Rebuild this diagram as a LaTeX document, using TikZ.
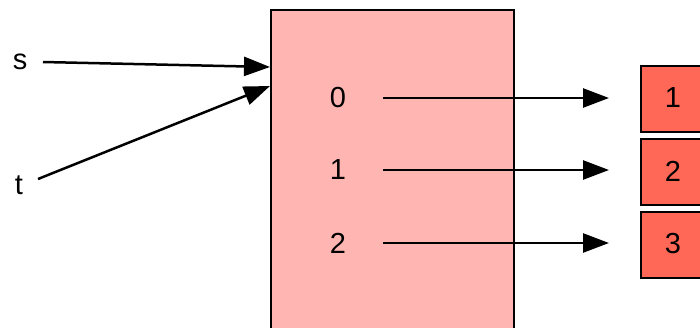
\documentclass[tikz,border=0pt]{standalone}
\usepackage{fontspec}
\setmainfont{Liberation Sans}
\usetikzlibrary{arrows.meta}
\begin{document}
\begin{tikzpicture}[x=1pt,y=-1pt,
  lbl/.style={inner sep=0pt, font=\fontsize{29}{34}\selectfont},
  conn/.style={line width=2.5pt, -{Triangle[length=26pt,width=19pt]}},
  bigbox/.style={draw=black, line width=2.4pt, fill=pinkfill},
  smallbox/.style={draw=black, line width=2.4pt, fill=redfill, minimum width=70pt, minimum height=66pt, inner sep=0pt, anchor=north west},
]
\definecolor{pinkfill}{HTML}{FFB6B3}
\definecolor{redfill}{HTML}{FF6757}
\useasboundingbox (0,0) rectangle (700,327);
\path[bigbox] (271,10) rectangle (514,340);
\coordinate (sin) at (270,67);
\coordinate (tin) at (270,86);
\node[lbl] (s) at (20,62) {s};
\node[lbl] (t) at (19,185) {t};
\node[lbl] (n0) at (338,98) {0};
\node[lbl] (n1) at (338,170) {1};
\node[lbl] (n2) at (338,243) {2};
\node[smallbox] (b1) at (640,65) {};
\node[smallbox] (b2) at (640,138) {};
\node[smallbox] (b3) at (640,211) {};
\node[lbl] (l1) at (673,98) {1};
\node[lbl] (l2) at (673,171) {2};
\node[lbl] (l3) at (673,244) {3};
\coordinate (a0s) at (383,98);
\coordinate (a1s) at (383,170);
\coordinate (a2s) at (383,243);
\coordinate (a0e) at (609,98);
\coordinate (a1e) at (609,170);
\coordinate (a2e) at (609,243);
\draw[conn] (43,62) -- (sin);
\draw[conn] (38,179) -- (tin);
\draw[conn] (a0s) -- (a0e);
\draw[conn] (a1s) -- (a1e);
\draw[conn] (a2s) -- (a2e);
\end{tikzpicture}
\end{document}
